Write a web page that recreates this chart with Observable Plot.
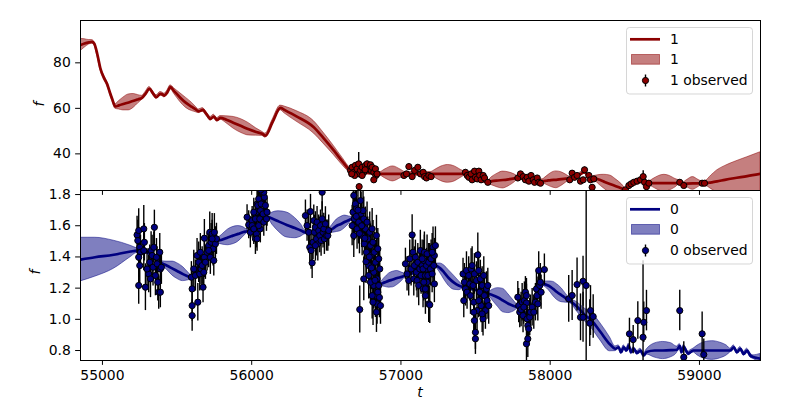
<!DOCTYPE html>
<html><head><meta charset="utf-8">
<script src="https://cdn.jsdelivr.net/npm/d3@7"></script>
<script src="https://cdn.jsdelivr.net/npm/@observablehq/plot@0.6"></script>
<style>
body{margin:0;background:#fff;}
#wrap{position:relative;width:800px;height:400px;font-family:"DejaVu Sans";}
#wrap svg{position:absolute;left:0;}
</style></head><body><div id="wrap"></div>
<script>
// ---- data ----
const seriesNames = ["1", "0"];
const xTicks = [55000, 56000, 57000, 58000, 59000];
const topYTicks = [40, 60, 80];
const botYTicks = [0.8, 1.0, 1.2, 1.4, 1.6, 1.8];

// model for series "1": [t, mean, half-width of band]
const model1 = [[54853,87.8,2.7],[54880,88.5,1.9],[54910,89.0,1.0],[54930,89.2,0.8],[54945,88.5,0.8],[54965,84.0,0.9],[54987,77.4,0.9],[55010,73.5,0.9],[55031,70.8,0.9],[55050,67.0,0.9],[55065,64.2,0.9],[55087,60.8,1.0],[55110,61.3,1.8],[55140,61.9,2.8],[55176,62.6,3.5],[55210,63.3,3.0],[55240,64.0,1.8],[55265,64.6,0.9],[55290,66.5,0.8],[55315,68.6,0.8],[55340,66.5,0.8],[55361,64.9,0.8],[55389,66.4,0.8],[55405,66.0,0.8],[55415,65.6,0.8],[55435,67.0,0.8],[55456,69.3,0.8],[55480,67.6,1.2],[55520,64.8,1.9],[55560,62.4,2.2],[55600,60.6,1.8],[55625,59.5,1.2],[55645,58.7,0.8],[55672,59.3,0.8],[55700,57.2,0.8],[55724,55.4,0.8],[55746,56.4,0.8],[55768,54.9,0.8],[55791,55.8,0.8],[55830,55.0,1.5],[55880,53.6,2.6],[55930,52.2,3.0],[55980,50.8,2.7],[56030,49.6,1.6],[56070,48.8,0.9],[56092,48.0,0.9],[56140,54.0,1.0],[56193,60.2,1.0],[56220,59.3,1.5],[56300,56.5,2.3],[56416,51.7,2.7],[56480,47.0,2.4],[56550,41.5,2.0],[56610,36.5,1.6],[56662,32.7,1.0],[56700,32.0,0.8],[56760,31.8,0.8],[56820,31.4,0.8],[56863,31.2,0.8],[56890,31.2,1.8],[56946,31.2,3.3],[57000,31.2,1.8],[57030,31.2,0.8],[57100,31.2,0.8],[57200,31.2,0.8],[57230,31.2,1.8],[57270,31.2,3.2],[57316,31.2,3.9],[57360,31.2,3.3],[57400,31.2,1.8],[57432,31.2,0.8],[57500,29.8,0.8],[57582,27.5,0.8],[57610,28.0,1.8],[57650,28.3,3.1],[57683,28.5,3.7],[57720,28.8,3.1],[57760,29.2,1.8],[57783,29.4,0.8],[57860,28.8,0.8],[57948,28.0,0.8],[57975,28.2,1.8],[58005,28.5,3.0],[58040,28.6,3.7],[58075,28.9,3.0],[58105,29.1,1.8],[58131,29.2,0.8],[58180,30.0,0.8],[58230,32.0,0.8],[58270,29.0,0.8],[58292,29.4,0.8],[58320,28.8,1.8],[58360,27.8,3.0],[58400,26.8,3.7],[58440,25.8,3.0],[58480,24.8,1.8],[58504,24.2,0.8],[58540,26.6,0.8],[58600,28.0,0.8],[58661,27.1,0.8],[58690,27.1,1.8],[58730,27.1,3.2],[58765,27.1,3.7],[58800,27.1,3.2],[58840,27.1,1.8],[58868,27.5,0.8],[58895,26.8,0.8],[58915,26.9,1.5],[58956,27.0,2.8],[58995,27.0,1.5],[59018,27.1,0.8],[59040,27.1,1.0],[59080,27.5,3.0],[59118,27.9,4.8],[59170,28.6,6.0],[59230,29.3,7.0],[59320,30.2,8.3],[59408,31.2,9.5]];

// observed series "1": [t, f, error]
const observed1 = [[56662,32.7,1],[56673,34.1,1],[56684,31.9,1],[56695,34.9,1.2],[56706,33.4,1],[56717,35.6,5],[56720,31.2,1],[56729,32.7,1],[56740,34.1,1.1],[56751,31.9,1],[56762,34.9,1],[56773,35.6,1.2],[56784,33.4,1],[56796,35.2,1],[56800,32.7,1],[56807,34.1,1],[56818,31.9,1],[56829,33.4,1.1],[56832,30.5,1],[56840,31.2,1],[56818,28.6,1],[56720,25.6,1.2],[56690,30.5,1],[56740,30.5,1],[56670,31.2,1],[56760,33.0,1],
[57020,30.5,1],[57037,31.2,1],[57053,34.4,1.2],[57075,30.0,1],[57091,32.7,1],[57113,34.1,1.1],[57131,31.2,1],[57149,31.9,1],[57158,30.0,1],[57171,29.4,1],[57187,30.5,1],[57202,30.0,1],
[57432,31.9,1],[57444,30.5,1],[57455,29.7,1],[57470,31.2,1],[57477,28.6,1],[57493,32.4,1.1],[57499,29.7,1],[57511,29.0,1],[57522,32.4,1],[57528,30.5,1],[57537,28.6,1.5],[57551,30.5,1],[57560,29.4,1],[57582,27.5,1],
[57783,29.4,1],[57801,31.2,1],[57819,30.0,1],[57834,28.6,1],[57846,29.7,1],[57857,28.0,1],[57872,30.5,1],[57886,28.6,1],[57895,27.5,1],[57913,29.4,1],[57924,27.5,1],[57935,27.1,1],
[58131,28.6,1],[58147,31.5,1],[58163,29.7,1],[58180,30.5,1],[58203,28.0,1],[58221,28.6,1],[58230,33.0,1.2],[58259,30.5,1],[58270,28.6,1],[58281,25.3,1],[58292,29.0,1],
[58504,24.2,1],[58527,26.1,1],[58542,26.8,1],[58560,27.5,1],[58582,28.0,1],[58605,28.6,1],[58623,30.0,2.6],[58632,27.5,1],[58645,25.6,1.5],[58661,27.1,1],
[58868,27.5,1],[58895,26.1,1],[59018,27.1,1],[59034,27.1,1.2]];

// model for series "0": [t, mean, half-width of band]
const model0 = [[54853,1.383,0.14],[54950,1.398,0.125],[55076,1.414,0.09],[55188,1.435,0.037],[55232,1.44,0.015],[55300,1.43,0.012],[55350,1.39,0.012],[55395,1.36,0.012],[55430,1.345,0.025],[55470,1.325,0.045],[55500,1.31,0.05],[55540,1.29,0.045],[55575,1.275,0.025],[55596,1.27,0.012],[55650,1.35,0.012],[55700,1.43,0.012],[55764,1.50,0.012],[55800,1.51,0.03],[55840,1.525,0.05],[55870,1.535,0.055],[55910,1.548,0.05],[55945,1.56,0.03],[55969,1.565,0.012],[56040,1.61,0.012],[56110,1.655,0.012],[56140,1.645,0.04],[56180,1.628,0.065],[56235,1.605,0.08],[56290,1.585,0.065],[56330,1.57,0.04],[56360,1.558,0.012],[56440,1.56,0.012],[56516,1.569,0.012],[56540,1.58,0.025],[56570,1.6,0.04],[56595,1.61,0.045],[56625,1.625,0.04],[56650,1.635,0.025],[56670,1.644,0.012],[56720,1.6,0.012],[56770,1.45,0.012],[56820,1.32,0.012],[56863,1.228,0.012],[56890,1.237,0.028],[56920,1.248,0.045],[56946,1.255,0.05],[56975,1.265,0.045],[57005,1.272,0.028],[57030,1.281,0.012],[57130,1.31,0.012],[57231,1.345,0.012],[57260,1.33,0.028],[57290,1.30,0.045],[57320,1.265,0.05],[57355,1.235,0.045],[57390,1.215,0.028],[57416,1.206,0.012],[57500,1.19,0.012],[57588,1.163,0.012],[57615,1.155,0.035],[57650,1.14,0.06],[57685,1.12,0.075],[57720,1.10,0.06],[57755,1.085,0.035],[57783,1.078,0.012],[57845,1.037,0.012],[57946,1.227,0.012],[57990,1.215,0.028],[58020,1.195,0.045],[58045,1.175,0.05],[58075,1.155,0.045],[58105,1.135,0.028],[58131,1.12,0.015],[58180,1.08,0.03],[58230,1.03,0.04],[58280,0.99,0.05],[58336,0.92,0.055],[58400,0.84,0.045],[58437,0.811,0.015],[58459,0.821,0.012],[58475,0.789,0.012],[58493,0.821,0.012],[58511,0.80,0.012],[58526,0.832,0.012],[58542,0.789,0.012],[58560,0.811,0.012],[58582,0.785,0.012],[58605,0.80,0.012],[58627,0.768,0.012],[58645,0.79,0.015],[58700,0.80,0.045],[58755,0.80,0.055],[58810,0.802,0.045],[58850,0.805,0.02],[58868,0.83,0.012],[58880,0.79,0.012],[58895,0.825,0.012],[58910,0.80,0.012],[58925,0.78,0.012],[58940,0.79,0.012],[58960,0.80,0.012],[58985,0.80,0.03],[59030,0.80,0.052],[59085,0.80,0.06],[59140,0.80,0.05],[59185,0.80,0.03],[59207,0.80,0.012],[59230,0.821,0.012],[59252,0.789,0.012],[59274,0.811,0.012],[59297,0.778,0.012],[59319,0.80,0.012],[59341,0.768,0.012],[59364,0.757,0.012],[59385,0.752,0.02],[59408,0.748,0.03]];

// observed series "0": [t, f, error]
const observed0 = [
[55232,1.541,0.12],[55237,1.505,0.13],[55243,1.569,0.14],[55250,1.462,0.12],[55255,1.430,0.11],[55243,1.398,0.13],[55250,1.345,0.12],[55243,1.217,0.12],[55277,1.580,0.15],[55281,1.494,0.12],[55277,1.441,0.13],[55288,1.206,0.15],[55310,1.291,0.12],[55317,1.366,0.11],[55326,1.441,0.12],[55333,1.409,0.13],[55339,1.334,0.12],[55344,1.462,0.1],[55348,1.590,0.11],[55355,1.281,0.13],[55362,1.398,0.12],[55366,1.356,0.11],[55371,1.238,0.12],[55377,1.174,0.11],[55384,1.430,0.12],[55388,1.323,0.1],[55388,1.174,0.1],[55395,1.334,0.11],[55322,1.259,0.12],[55299,1.323,0.13],
[55596,1.270,0.1],[55601,1.195,0.11],[55601,1.088,0.1],[55601,1.024,0.1],[55612,1.323,0.12],[55623,1.281,0.1],[55634,1.409,0.11],[55639,1.110,0.12],[55645,1.366,0.13],[55652,1.291,0.11],[55656,1.430,0.12],[55661,1.323,0.1],[55668,1.345,0.12],[55674,1.206,0.1],[55679,1.302,0.11],[55683,1.398,0.13],[55683,1.520,0.12],[55690,1.366,0.11],[55701,1.430,0.12],[55712,1.473,0.1],[55719,1.558,0.13],[55723,1.398,0.11],[55728,1.494,0.12],[55735,1.548,0.13],[55741,1.452,0.11],[55746,1.377,0.1],[55750,1.558,0.12],[55757,1.484,0.11],[55764,1.516,0.1],[55735,1.516,0.12],[55712,1.441,0.11],
[55969,1.655,0.08],[55980,1.606,0.09],[55991,1.558,0.1],[56003,1.633,0.09],[56014,1.580,0.1],[56025,1.516,0.1],[56032,1.687,0.09],[56036,1.740,0.1],[56047,1.644,0.09],[56054,1.761,0.1],[56058,1.580,0.09],[56003,1.601,0.08],[56014,1.687,0.09],[56025,1.644,0.1],[56032,1.548,0.09],[56036,1.516,0.08],[56041,1.730,0.1],[56047,1.772,0.09],[56054,1.644,0.08],[56059,1.697,0.09],[56063,1.740,0.1],[56070,1.815,0.09],[56076,1.676,0.08],[56081,1.623,0.09],[56085,1.783,0.1],[56092,1.730,0.09],[56099,1.644,0.08],[56103,1.687,0.09],[56014,1.580,0.08],[56047,1.601,0.09],[56081,1.815,0.1],[56060,1.83,0.1],
[56360,1.665,0.1],[56394,1.691,0.11],[56371,1.601,0.1],[56382,1.558,0.12],[56389,1.462,0.11],[56398,1.441,0.12],[56405,1.362,0.1],[56411,1.494,0.11],[56416,1.633,0.1],[56420,1.558,0.11],[56427,1.590,0.1],[56434,1.516,0.11],[56438,1.623,0.1],[56443,1.484,0.11],[56449,1.569,0.1],[56456,1.537,0.11],[56461,1.601,0.1],[56465,1.505,0.1],[56472,1.644,0.11],[56478,1.558,0.1],[56483,1.580,0.1],[56487,1.516,0.1],[56494,1.612,0.11],[56501,1.537,0.1],[56510,1.537,0.1],[56516,1.569,0.1],[56472,1.815,0.12],[56427,1.473,0.1],
[56684,1.794,0.13],[56695,1.740,0.14],[56679,1.687,0.13],[56688,1.644,0.14],[56702,1.708,0.12],[56673,1.601,0.13],[56684,1.537,0.14],[56706,1.580,0.13],[56717,1.623,0.14],[56729,1.761,0.13],[56733,1.676,0.14],[56740,1.537,0.13],[56746,1.697,0.15],[56751,1.644,0.14],[56755,1.484,0.13],[56762,1.580,0.14],[56769,1.430,0.15],[56773,1.623,0.13],[56778,1.516,0.14],[56784,1.345,0.15],[56791,1.558,0.13],[56796,1.473,0.14],[56800,1.409,0.15],[56807,1.580,0.13],[56813,1.494,0.14],[56818,1.302,0.15],[56822,1.430,0.13],[56829,1.366,0.14],[56836,1.537,0.13],[56840,1.259,0.14],[56845,1.452,0.13],[56818,1.217,0.15],[56829,1.152,0.14],[56840,1.099,0.13],[56851,1.217,0.14],[56858,1.323,0.13],[56863,1.088,0.12],[56807,1.152,0.15],[56796,1.238,0.14],[56784,1.281,0.15],[56751,1.259,0.14],[56724,1.063,0.15],[56836,1.046,0.13],[56845,1.174,0.14],[56851,1.388,0.13],[56813,1.110,0.15],[56700,1.66,0.13],[56712,1.70,0.14],[56722,1.55,0.13],[56737,1.60,0.14],[56758,1.52,0.13],[56766,1.37,0.14],[56788,1.40,0.15],[56803,1.33,0.14],[56826,1.25,0.13],[56856,1.14,0.13],
[57030,1.356,0.1],[57041,1.291,0.11],[57052,1.249,0.1],[57059,1.388,0.12],[57068,1.323,0.11],[57075,1.541,0.13],[57081,1.430,0.12],[57086,1.259,0.11],[57090,1.345,0.12],[57097,1.398,0.11],[57104,1.302,0.12],[57108,1.249,0.11],[57113,1.366,0.12],[57119,1.217,0.13],[57126,1.323,0.12],[57130,1.441,0.13],[57135,1.281,0.12],[57142,1.345,0.11],[57148,1.195,0.12],[57153,1.377,0.13],[57157,1.420,0.12],[57164,1.281,0.11],[57171,1.323,0.12],[57175,1.238,0.11],[57186,1.099,0.12],[57193,1.356,0.13],[57142,1.388,0.12],[57148,1.323,0.11],[57153,1.238,0.12],[57157,1.430,0.13],[57164,1.195,0.12],[57171,1.345,0.11],[57175,1.420,0.12],[57180,1.281,0.13],[57186,1.366,0.12],[57193,1.093,0.12],[57198,1.323,0.11],[57202,1.388,0.12],[57209,1.291,0.12],[57215,1.462,0.13],[57220,1.345,0.12],[57224,1.409,0.11],[57231,1.473,0.12],[57224,1.227,0.12],[57164,1.152,0.12],[57209,1.430,0.12],
[57416,1.291,0.1],[57421,1.120,0.11],[57425,1.238,0.12],[57432,1.195,0.11],[57439,1.313,0.12],[57443,1.174,0.11],[57454,1.281,0.12],[57461,1.227,0.11],[57466,1.152,0.12],[57470,1.323,0.13],[57477,1.345,0.12],[57483,1.217,0.11],[57488,1.110,0.12],[57492,1.291,0.13],[57492,0.992,0.12],[57499,0.917,0.11],[57499,0.875,0.1],[57506,1.249,0.12],[57510,1.056,0.13],[57515,1.413,0.14],[57521,1.313,0.12],[57528,1.174,0.11],[57532,1.259,0.12],[57537,1.088,0.11],[57544,1.217,0.12],[57550,1.003,0.11],[57555,1.281,0.12],[57559,1.152,0.11],[57566,1.056,0.12],[57573,1.195,0.11],[57577,1.120,0.12],[57582,1.217,0.11],[57588,1.088,0.12],[57488,1.046,0.12],[57521,1.120,0.11],[57544,1.035,0.12],
[57783,1.142,0.1],[57789,1.088,0.11],[57796,1.046,0.1],[57805,1.063,0.11],[57812,1.110,0.12],[57818,1.024,0.11],[57827,1.120,0.12],[57834,1.174,0.1],[57841,1.152,0.11],[57841,1.105,0.12],[57845,1.003,0.11],[57850,0.960,0.12],[57841,0.843,0.11],[57850,0.875,0.12],[57856,0.939,0.11],[57863,1.014,0.12],[57868,1.046,0.11],[57879,1.078,0.12],[57890,1.046,0.11],[57901,1.110,0.12],[57908,1.195,0.11],[57912,1.152,0.12],[57917,1.099,0.11],[57923,1.313,0.12],[57930,1.217,0.11],[57934,1.238,0.12],[57939,1.174,0.11],[57961,1.319,0.1],[57823,1.078,0.11],
[58124,1.131,0.15],[58147,1.153,0.16],[58180,1.223,0.17],[58220,1.244,0.16],[58241,1.217,1.3],[58203,1.013,0.15],[58220,1.013,0.16],[58265,0.975,0.15],[58270,1.056,0.16],[58288,1.018,0.14],
[58531,0.907,0.1],[58556,0.870,0.09],[58587,0.992,0.12],[58622,0.885,0.49],[58627,0.981,0.13],[58645,1.056,0.13],[58868,1.056,0.13],[58895,0.757,0.1],[59018,0.907,0.14],[59029,0.774,0.1]];

// ---- drawing ----
(function () {
const colors = ["#8b0000", "#000080"];
const xDomain = [54853, 59409];
const wrap = document.getElementById("wrap");

function panel(model, obs, color, yDomain, yTicks, yFmt, height, mt, mb, showX) {
  const M = model.map(d => ({t: d[0], m: d[1], lo: d[1] - d[2], hi: d[1] + d[2]}));
  const O = obs.map(d => ({t: d[0], f: d[1], lo: d[1] - d[2], hi: d[1] + d[2]}));
  return Plot.plot({
    width: 800, height, marginTop: mt, marginBottom: mb, marginLeft: 80, marginRight: 40,
    style: {fontFamily: "DejaVu Sans", fontSize: "13.9px", color: "black", background: "transparent", overflow: "visible"},
    x: {domain: xDomain, ticks: xTicks, tickFormat: showX ? d3.format("d") : () => "", tickSize: 4.86, tickPadding: 4.86, label: null},
    y: {domain: yDomain, ticks: yTicks, tickFormat: yFmt, tickSize: 4.86, tickPadding: 4.86, label: null},
    marks: [
      Plot.areaY(M, {x: "t", y1: "lo", y2: "hi", fill: color, fillOpacity: 0.5, stroke: color, strokeOpacity: 0.5, strokeWidth: 1, curve: "monotone-x", clip: true}),
      Plot.line(M, {x: "t", y: "m", stroke: color, strokeWidth: 2.7, curve: "monotone-x", clip: true}),
      Plot.ruleX(O, {x: "t", y1: "lo", y2: "hi", stroke: "black", strokeWidth: 1.4, clip: true}),
      Plot.dot(O, {x: "t", y: "f", r: 3.1, fill: color, stroke: "black", strokeWidth: 1, clip: true}),
      Plot.frame({stroke: "black"})
    ]
  });
}

const bottomPanel = panel(model0, observed0, colors[1], [0.736, 1.826], botYTicks, d3.format(".1f"), 210, 0, 40, true);
bottomPanel.style.top = "190px";
wrap.appendChild(bottomPanel);
const topPanel = panel(model1, observed1, colors[0], [23.9, 98.6], topYTicks, d3.format("d"), 190, 20, 0, false);
topPanel.style.top = "0px";
wrap.appendChild(topPanel);

// overlay: axis labels and legends
const ov = d3.select(wrap).append("svg").attr("width", 800).attr("height", 400)
  .style("top", "0px").style("font-family", "DejaVu Sans").style("font-size", "13.9px");
ov.append("text").attr("transform", "translate(43.6,104) rotate(-90)").attr("text-anchor", "middle").attr("font-style", "italic").text("f");
ov.append("text").attr("transform", "translate(40.3,272) rotate(-90)").attr("text-anchor", "middle").attr("font-style", "italic").text("f");
ov.append("text").attr("x", 420).attr("y", 397).attr("text-anchor", "middle").attr("font-style", "italic").text("t");

function legend(x0, y0, color, name) {
  const g = ov.append("g");
  g.append("rect").attr("x", x0 + 0.5).attr("y", y0 + 0.5).attr("width", 126).attr("height", 66.5).attr("rx", 3)
    .attr("fill", "white").attr("fill-opacity", 0.8).attr("stroke", "#cccccc").attr("stroke-opacity", 0.8);
  g.append("line").attr("x1", x0 + 4).attr("x2", x0 + 34).attr("y1", y0 + 12.3).attr("y2", y0 + 12.3).attr("stroke", color).attr("stroke-width", 2.7);
  g.append("rect").attr("x", x0 + 5.5).attr("y", y0 + 27.5).attr("width", 28).attr("height", 9.7)
    .attr("fill", color).attr("fill-opacity", 0.5).attr("stroke", color).attr("stroke-opacity", 0.5);
  g.append("line").attr("x1", x0 + 19.5).attr("x2", x0 + 19.5).attr("y1", y0 + 47.5).attr("y2", y0 + 59.5).attr("stroke", "black").attr("stroke-width", 1.4);
  g.append("circle").attr("cx", x0 + 19.5).attr("cy", y0 + 53.5).attr("r", 3.1).attr("fill", color).attr("stroke", "black").attr("stroke-width", 1);
  const labels = [name, name, name + " observed"];
  const base = [17.3, 37.3, 58.3];
  labels.forEach((s, i) => g.append("text").attr("x", x0 + 44).attr("y", y0 + base[i]).text(s));
}
legend(626, 27, colors[0], seriesNames[0]);
legend(626, 197, colors[1], seriesNames[1]);
})();
</script></body></html>
